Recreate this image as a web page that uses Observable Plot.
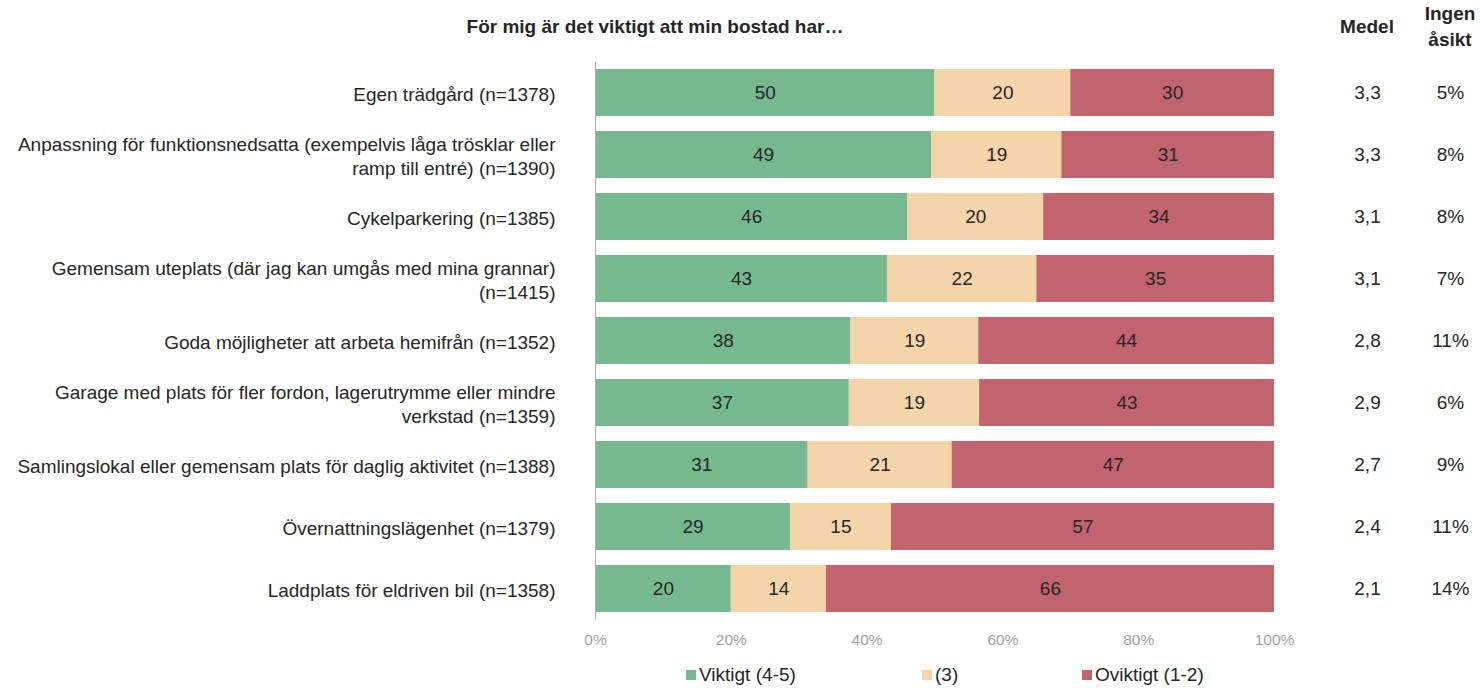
<!DOCTYPE html>
<html>
<head>
<meta charset="utf-8">
<script src="https://cdn.jsdelivr.net/npm/d3@7"></script>
<script src="https://cdn.jsdelivr.net/npm/@observablehq/plot@0.6"></script>
<style>
  html, body { margin: 0; padding: 0; background: #fff; }
  body { width: 1480px; height: 688px; overflow: hidden; font-family: "Liberation Sans", Arial, sans-serif; color: #262626; }
  #wrap { position: relative; width: 1480px; height: 688px; }
  #header { position: relative; height: 56px; }
  .hd { position: absolute; font-weight: bold; font-size: 19px; text-align: center; line-height: 26px; }
  #legend { position: relative; height: 32px; font-size: 19px; }
  .lg { position: absolute; top: 8px; display: flex; align-items: center; white-space: nowrap; }
  .sw { width: 10px; height: 10px; margin-right: 3px; }
</style>
</head>
<body>
<div id="wrap">
  <div id="header"></div>
  <div id="chart"></div>
  <div id="legend"></div>
</div>
<script>
const title = "För mig är det viktigt att min bostad har…";
const colMedel = "Medel";
const colIngen = "Ingen\nåsikt";

const categories = [
  "Egen trädgård (n=1378)",
  "Anpassning för funktionsnedsatta (exempelvis låga trösklar eller\nramp till entré) (n=1390)",
  "Cykelparkering (n=1385)",
  "Gemensam uteplats (där jag kan umgås med mina grannar)\n(n=1415)",
  "Goda möjligheter att arbeta hemifrån (n=1352)",
  "Garage med plats för fler fordon, lagerutrymme eller mindre\nverkstad (n=1359)",
  "Samlingslokal eller gemensam plats för daglig aktivitet (n=1388)",
  "Övernattningslägenhet (n=1379)",
  "Laddplats för eldriven bil (n=1358)"
];
const series = ["Viktigt (4-5)", "(3)", "Oviktigt (1-2)"];
const colors = ["#76B991", "#F3D5A9", "#C2646D"];
const viktigt  = [50, 49, 46, 43, 38, 37, 31, 29, 20];
const neutral  = [20, 19, 20, 22, 19, 19, 21, 15, 14];
const oviktigt = [30, 31, 34, 35, 44, 43, 47, 57, 66];
const medel = ["3,3", "3,3", "3,1", "3,1", "2,8", "2,9", "2,7", "2,4", "2,1"];
const ingenAsikt = [5, 8, 8, 7, 11, 6, 9, 11, 14];
const xTicks = [0, 0.2, 0.4, 0.6, 0.8, 1];

const seriesValues = [viktigt, neutral, oviktigt];
const stacked = [];
categories.forEach((c, i) => {
  series.forEach((s, j) => stacked.push({cat: c, series: s, value: seriesValues[j][i]}));
});
const rows = categories.map((c, i) => ({cat: c, medel: medel[i], ingen: ingenAsikt[i] + "%"}));

// header
const header = document.getElementById("header");
function hd(text, cx, top) {
  const d = document.createElement("div");
  d.className = "hd";
  d.style.left = (cx - 250) + "px";
  d.style.width = "500px";
  d.style.top = top + "px";
  d.innerHTML = text.split("\n").join("<br>");
  header.appendChild(d);
}
hd(title, 655, 14);
hd(colMedel, 1367, 14);
hd(colIngen, 1450, 1);

const W = 1480, H = 600;
const mL = 595, mR = 206, mT = 6, mB = 36;

const chart = Plot.plot({
  width: W,
  height: H,
  marginLeft: mL,
  marginRight: mR,
  marginTop: mT,
  marginBottom: mB,
  style: {fontFamily: "'Liberation Sans', Arial, sans-serif", background: "#fff", overflow: "visible"},
  x: {domain: [0, 1], ticks: xTicks, tickFormat: d3.format(".0%")},
  y: {domain: categories, paddingInner: 0.24, paddingOuter: 0.12},
  color: {domain: series, range: colors},
  marks: [
    Plot.barX(stacked, Plot.stackX({x: "value", y: "cat", fill: "series", offset: "normalize", order: series})),
    Plot.text(stacked, Plot.stackX({x: "value", y: "cat", z: "series", text: "value", offset: "normalize", order: series, fill: "#262626", fontSize: 19})),
    Plot.ruleX([0], {stroke: "#b0b0b0", strokeWidth: 1}),
    Plot.axisY({tickSize: 0, tickPadding: 40, fontSize: 19, lineHeight: 1.3, fill: "#262626", label: null}),
    Plot.axisX({ticks: xTicks, tickFormat: d3.format(".0%"), tickSize: 0, tickPadding: 13, fontSize: 15.5, fill: "#a0a0a0", label: null}),
    Plot.text(rows, {y: "cat", text: "medel", frameAnchor: "right", textAnchor: "middle", dx: 93, fontSize: 19, fill: "#262626"}),
    Plot.text(rows, {y: "cat", text: "ingen", frameAnchor: "right", textAnchor: "middle", dx: 176, fontSize: 19, fill: "#262626"})
  ]
});
document.getElementById("chart").appendChild(chart);

// legend
const legend = document.getElementById("legend");
const legX = [686, 922, 1082];
series.forEach((s, i) => {
  const d = document.createElement("div");
  d.className = "lg";
  d.style.left = legX[i] + "px";
  d.innerHTML = `<span class="sw" style="background:${colors[i]}"></span><span>${s}</span>`;
  legend.appendChild(d);
});
</script>
</body>
</html>
